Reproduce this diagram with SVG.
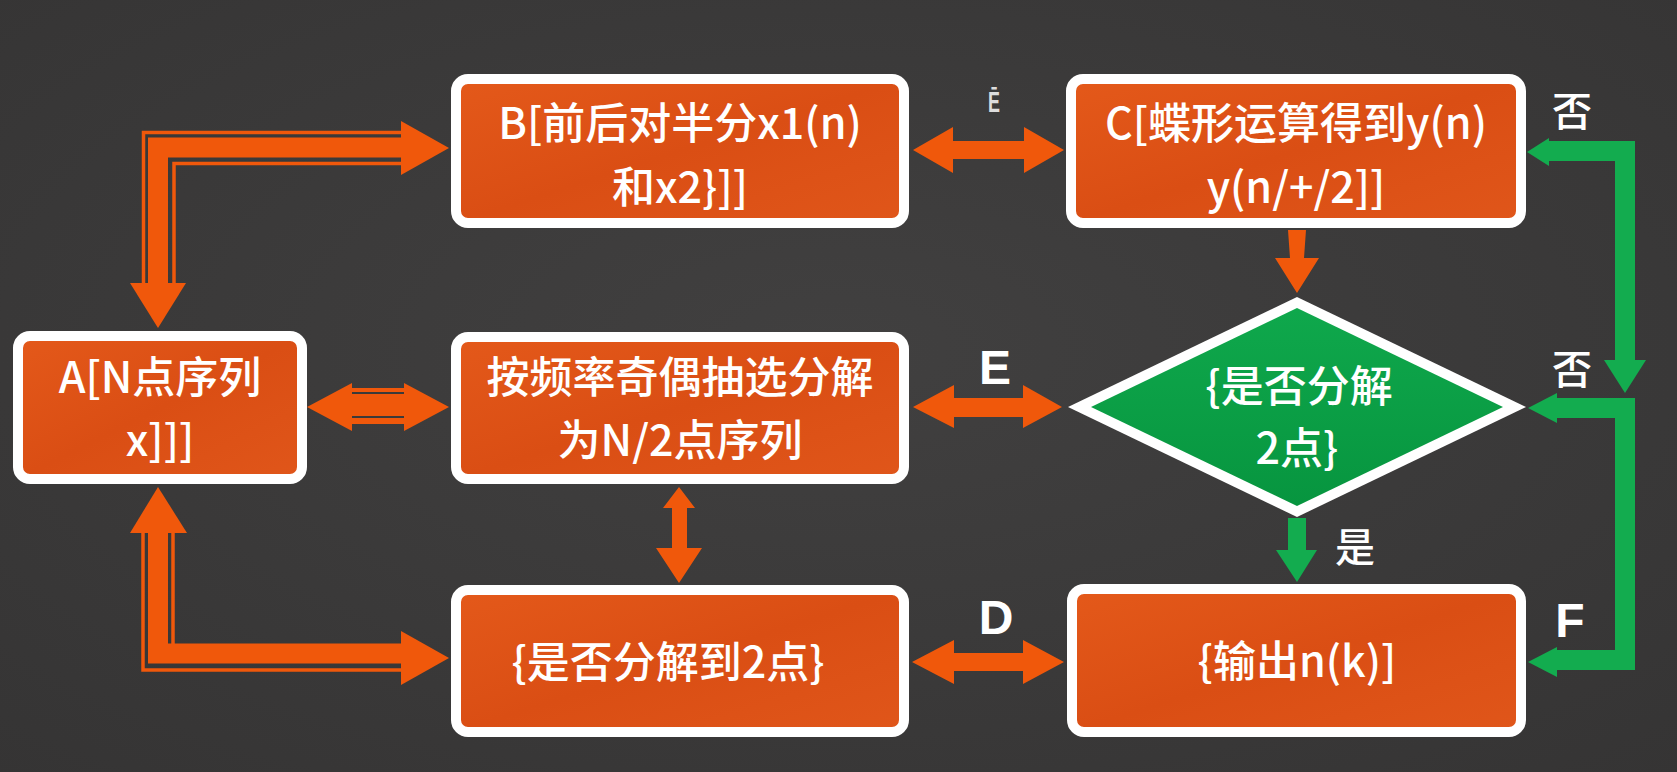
<svg xmlns="http://www.w3.org/2000/svg" width="1677" height="772" viewBox="0 0 1677 772">
<defs>
<radialGradient id="bg" cx="50%" cy="45%" r="75%"><stop offset="0" stop-color="#414040"/><stop offset="1" stop-color="#353434"/></radialGradient>
<linearGradient id="og" x1="0" y1="0" x2="1" y2="1"><stop offset="0" stop-color="#e4591a"/><stop offset="0.5" stop-color="#da4e14"/><stop offset="1" stop-color="#e0561a"/></linearGradient>
<linearGradient id="gg" x1="0" y1="0" x2="0" y2="1"><stop offset="0" stop-color="#0fa84c"/><stop offset="1" stop-color="#07953f"/></linearGradient>
<style>
.box{fill:url(#og);stroke:#ffffff;stroke-width:10}
.t{fill:#ffffff;font-family:"Noto Sans CJK SC","Noto Sans",sans-serif;font-size:43px;font-weight:500;text-anchor:middle}
.lbl{fill:#ffffff;font-family:"Liberation Sans","Noto Sans CJK SC",sans-serif;font-size:48px;font-weight:bold;text-anchor:middle}
.lblc{fill:#ffffff;font-family:"Noto Sans CJK SC",sans-serif;font-size:40px;font-weight:500;text-anchor:middle}
.oa{fill:#f0580b}
.os{fill:none;stroke:#f0580b;stroke-linejoin:miter}
.ga{fill:#13ac4f}
.gs{fill:none;stroke:#13ac4f;stroke-width:20;stroke-linejoin:miter}
</style>
</defs>
<rect width="1677" height="772" fill="url(#bg)"/>

<g id="connectors">
  <!-- A <-> B elbow -->
  <polyline class="os" stroke-width="20" points="158,285 158,147.5 403,147.5"/>
  <polyline class="os" stroke-width="3.5" points="143.5,285 143.5,132.5 403,132.5"/>
  <polyline class="os" stroke-width="3.5" points="174,285 174,163.5 403,163.5"/>
  <polygon class="oa" points="130,283 186,283 158,328"/>
  <polygon class="oa" points="401,121 401,175 449,148"/>

  <!-- A <-> middle -->
  <polygon class="oa" points="307,407 352,383 352,388 404,388 404,383 449,407 404,431 404,424 352,424 352,431"/>
  <rect x="352" y="392" width="52" height="2" fill="#3b3a3a"/>
  <rect x="352" y="416" width="52" height="2" fill="#3b3a3a"/>

  <!-- A <-> decision box elbow -->
  <polygon class="oa" points="158,487 187,533 130,533"/>
  <polyline class="os" stroke-width="20" points="158,533 158,653.5 403,653.5"/>
  <polyline class="os" stroke-width="3.5" points="143,533 143,670 403,670"/>
  <polyline class="os" stroke-width="3.5" points="173,533 173,644"/>
  <polygon class="oa" points="401,631 401,685 449,658"/>

  <!-- B <-> C -->
  <polygon class="oa" points="913,150 953,127 953,141 1024,141 1024,127 1064,150 1024,173 1024,159 953,159 953,173"/>
  <!-- middle <-> diamond (E) -->
  <polygon class="oa" points="913,407 954,385 954,398 1023,398 1023,385 1062,407 1023,428 1023,417 954,417 954,428"/>
  <!-- decision box <-> output (D) -->
  <polygon class="oa" points="912,662 954,640 954,653 1023,653 1023,640 1064,662 1023,684 1023,671 954,671 954,684"/>
  <!-- middle <-> decision box vertical -->
  <polygon class="oa" points="679,487 695,508 687,508 687,548 702,548 679,583 656,548 672,548 672,508 663,508"/>
  <!-- C -> diamond -->
  <polygon class="oa" points="1288,230 1306,230 1304,258 1319,258 1297,293 1275,258 1290,258"/>

  <!-- diamond -> output (yes) -->
  <polygon class="ga" points="1288,518 1306,518 1306,550 1317,550 1297,582 1276,550 1288,550"/>

  <!-- green upper: C <-> down -->
  <polyline class="gs" points="1545,151 1625,151 1625,362"/>
  <polygon class="ga" points="1527,152 1549,138 1549,166"/>
  <polygon class="ga" points="1604,360 1646,360 1625,393"/>

  <!-- green lower: diamond <- ... -> output -->
  <polyline class="gs" points="1552,408 1625,408 1625,660 1552,660"/>
  <polygon class="ga" points="1528,408 1557,393 1557,423"/>
  <polygon class="ga" points="1528,662 1557,647 1557,677"/>

  <!-- labels -->
  <text x="994" y="112" fill="#dddddd" font-family="Liberation Sans, sans-serif" font-size="30" font-weight="bold" text-anchor="middle" transform="translate(994,0) scale(0.6,1) translate(-994,0)">Ē</text>
  <text class="lbl" x="995" y="384">E</text>
  <text class="lbl" x="996" y="634">D</text>
  <text class="lbl" x="1570" y="637">F</text>
  <text class="lblc" x="1572" y="126">否</text>
  <text class="lblc" x="1572" y="384">否</text>
  <text class="lblc" x="1355" y="562">是</text>
</g>

<g id="nodeA">
  <rect class="box" x="18" y="336" width="284" height="143" rx="12"/>
  <text class="t" x="160" y="393">A[N点序列</text>
  <text class="t" x="160" y="456">x]]]</text>
</g>
<g id="nodeB">
  <rect class="box" x="456" y="79" width="448" height="144" rx="12"/>
  <text class="t" x="680" y="139">B[前后对半分x1(n)</text>
  <text class="t" x="680" y="203">和x2}]]</text>
</g>
<g id="nodeC">
  <rect class="box" x="1071" y="79" width="450" height="144" rx="12"/>
  <text class="t" x="1296" y="139">C[蝶形运算得到y(n)</text>
  <text class="t" x="1296" y="203">y(n/+/2]]</text>
</g>
<g id="nodeM">
  <rect class="box" x="456" y="337" width="448" height="142" rx="12"/>
  <text class="t" x="680" y="393">按频率奇偶抽选分解</text>
  <text class="t" x="680" y="456">为N/2点序列</text>
</g>
<g id="nodeDiamond">
  <polygon points="1297,297 1526,407 1297,517 1068,407" fill="#ffffff"/>
  <polygon points="1297,308 1503,407 1297,506 1091,407" fill="url(#gg)"/>
  <text class="t" x="1299" y="402">{是否分解</text>
  <text class="t" x="1297" y="464">2点}</text>
</g>
<g id="nodeD">
  <rect class="box" x="456" y="590" width="448" height="142" rx="12"/>
  <text class="t" x="668" y="678">{是否分解到2点}</text>
</g>
<g id="nodeOut">
  <rect class="box" x="1072" y="589" width="449" height="143" rx="12"/>
  <text class="t" x="1297" y="677">{输出n(k)]</text>
</g>
</svg>
